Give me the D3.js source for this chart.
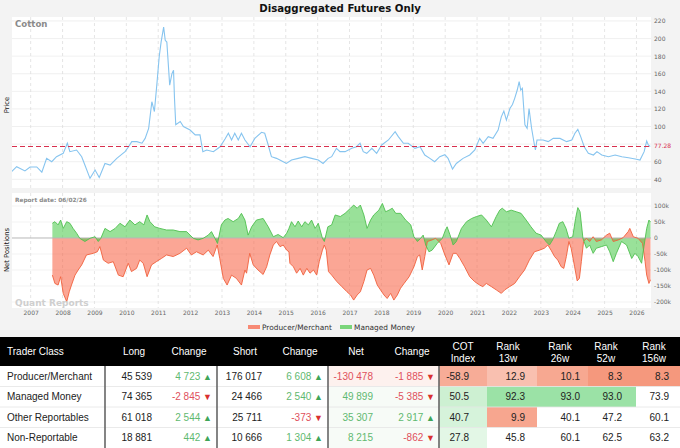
<!DOCTYPE html>
<html>
<head>
<meta charset="utf-8">
<script src="https://cdn.jsdelivr.net/npm/d3@7"></script>
<style>
  html, body { margin: 0; padding: 0; background: #f3f3f3; }
  svg { display: block; }
</style>
</head>
<body>
<svg id="chart" width="680" height="448"></svg>
<script>
// ---- data ----
var yearTicks = [2007, 2008, 2009, 2010, 2011, 2012, 2013, 2014, 2015, 2016,
                 2017, 2018, 2019, 2020, 2021, 2022, 2023, 2024, 2025, 2026];
var priceTicks = [40, 60, 80, 100, 120, 140, 160, 180, 200, 220];
var netTicks = [-200, -150, -100, -50, 0, 50, 100];
var lastPrice = 77.28;

// price (cents/lb), dates as decimal years
var priceDates = [2006.40, 2006.56, 2006.82, 2006.98, 2007.19, 2007.35, 2007.50, 2007.66, 2007.81, 2008.02,
  2008.15, 2008.23, 2008.44, 2008.60, 2008.70, 2008.86, 2009.02, 2009.15, 2009.33, 2009.49,
  2009.70, 2009.96, 2010.07, 2010.17, 2010.33, 2010.49, 2010.59, 2010.70, 2010.80, 2010.88,
  2010.96, 2011.03, 2011.09, 2011.17, 2011.22, 2011.27, 2011.36, 2011.43, 2011.48, 2011.51,
  2011.55, 2011.69, 2011.79, 2012.00, 2012.16, 2012.31, 2012.40, 2012.52, 2012.73, 2012.94,
  2013.10, 2013.20, 2013.30, 2013.40, 2013.51, 2013.61, 2013.72, 2013.88, 2014.03, 2014.24,
  2014.34, 2014.45, 2014.55, 2014.71, 2014.92, 2015.02, 2015.18, 2015.39, 2015.60, 2015.81,
  2016.02, 2016.17, 2016.33, 2016.44, 2016.59, 2016.70, 2016.86, 2017.07, 2017.22, 2017.33,
  2017.43, 2017.54, 2017.70, 2017.85, 2018.01, 2018.22, 2018.43, 2018.53, 2018.69, 2018.84,
  2019.05, 2019.21, 2019.36, 2019.52, 2019.67, 2019.83, 2019.99, 2020.09, 2020.23, 2020.35,
  2020.56, 2020.77, 2020.93, 2021.08, 2021.19, 2021.35, 2021.50, 2021.66, 2021.76, 2021.84,
  2021.92, 2022.03, 2022.11, 2022.18, 2022.26, 2022.32, 2022.37, 2022.42, 2022.50, 2022.57,
  2022.63, 2022.71, 2022.79, 2022.83, 2022.88, 2023.07, 2023.23, 2023.39, 2023.60, 2023.81,
  2023.97, 2024.07, 2024.16, 2024.25, 2024.36, 2024.49, 2024.65, 2024.76, 2024.91, 2025.12,
  2025.33, 2025.54, 2025.75, 2025.96, 2026.11, 2026.24, 2026.32, 2026.37, 2026.43];
var priceValues = [48.6, 54.3, 49.5, 54, 54, 48, 63.8, 60, 65.7, 69.5,
  81, 71.4, 73.3, 65.7, 56.2, 41.1, 50.5, 42, 58, 56.2,
  63.8, 71.4, 77, 82.8, 82.8, 81, 86.5, 97.9, 128.2, 117,
  149, 179, 196, 213, 198, 196, 147, 160, 164, 132,
  102, 105.7, 100, 96, 90.5, 90.5, 71.4, 73.3, 71.4, 77,
  86, 92.3, 84.7, 92.3, 84.7, 92.3, 84.7, 77, 86.5, 93.4,
  92.3, 79, 65.7, 63.8, 60, 58, 61.9, 63.8, 65.7, 63.8,
  61.9, 58, 63.8, 65.7, 75.2, 71.4, 71.4, 75.2, 77, 81,
  71.4, 69.5, 75.2, 69.5, 79, 84.7, 94.2, 88.5, 81, 81,
  75.2, 77, 67.6, 63.8, 60, 65.7, 68, 63.8, 51.7, 58,
  63.8, 67.6, 73.3, 86.5, 81, 88.5, 86.5, 96, 111, 117.5,
  107.3, 120.5, 125, 132, 141.5, 151, 141.5, 143.5, 102, 98,
  120.5, 98, 81, 73.3, 84.7, 84.7, 82.8, 86.5, 86.5, 82.8,
  84.7, 92.3, 96.8, 88.5, 77, 69.5, 67.6, 71.4, 67.6, 65.7,
  67.6, 65.7, 64.5, 63, 61.9, 71.4, 83.5, 79, 77.28];

// Producer/Merchant net position (thousand contracts)
var pmDates = [2007.68, 2007.76, 2007.86, 2007.94, 2008.02, 2008.13, 2008.21, 2008.28, 2008.39, 2008.49,
  2008.60, 2008.75, 2008.96, 2009.09, 2009.17, 2009.28, 2009.43, 2009.59, 2009.75, 2009.90,
  2010.06, 2010.16, 2010.32, 2010.42, 2010.53, 2010.65, 2010.79, 2010.94, 2011.10, 2011.26,
  2011.47, 2011.68, 2011.89, 2012.04, 2012.20, 2012.41, 2012.57, 2012.72, 2012.85, 2012.93,
  2013.04, 2013.16, 2013.30, 2013.45, 2013.61, 2013.72, 2013.77, 2013.87, 2013.98, 2014.13,
  2014.29, 2014.40, 2014.50, 2014.61, 2014.71, 2014.82, 2014.92, 2015.03, 2015.10, 2015.13,
  2015.24, 2015.34, 2015.45, 2015.55, 2015.66, 2015.76, 2015.87, 2015.97, 2016.05, 2016.15,
  2016.21, 2016.27, 2016.34, 2016.44, 2016.60, 2016.76, 2016.92, 2017.03, 2017.13, 2017.24,
  2017.34, 2017.45, 2017.55, 2017.66, 2017.76, 2017.87, 2017.97, 2018.08, 2018.18, 2018.29,
  2018.39, 2018.50, 2018.60, 2018.71, 2018.87, 2019.02, 2019.13, 2019.20, 2019.28, 2019.36,
  2019.44, 2019.59, 2019.70, 2019.86, 2019.99, 2020.12, 2020.25, 2020.35, 2020.46, 2020.61,
  2020.77, 2020.92, 2021.08, 2021.18, 2021.29, 2021.45, 2021.60, 2021.76, 2021.87, 2022.02,
  2022.18, 2022.33, 2022.49, 2022.64, 2022.80, 2022.96, 2023.11, 2023.22, 2023.32, 2023.43,
  2023.53, 2023.64, 2023.72, 2023.80, 2023.88, 2023.95, 2024.06, 2024.14, 2024.21, 2024.27,
  2024.34, 2024.43, 2024.53, 2024.64, 2024.74, 2024.90, 2025.06, 2025.16, 2025.27, 2025.43,
  2025.58, 2025.74, 2025.79, 2025.90, 2026.05, 2026.19, 2026.27, 2026.32, 2026.39, 2026.44];
var pmValues = [-116, -142, -147, -121, -173, -199, -168, -147, -116, -100,
  -84, -53, -48, -43, -27, -69, -79, -74, -116, -121,
  -79, -105, -95, -69, -79, -121, -84, -74, -64, -53,
  -58, -48, -32, -53, -43, -53, -38, -58, -22, -64,
  -126, -147, -116, -126, -147, -100, -110, -48, -84, -100,
  -114, -90, -53, -22, -11, -27, -22, -38, -43, -79,
  -90, -110, -95, -116, -95, -110, -100, -116, -74, -38,
  -22, -38, -105, -116, -136, -152, -168, -178, -194, -178,
  -168, -136, -100, -95, -116, -147, -162, -178, -189, -173,
  -194, -178, -157, -142, -121, -90, -58, -53, -100, -58,
  -11, -6, -1, -17, -53, -84, -48, -48, -64, -90,
  -121, -136, -147, -152, -142, -152, -162, -173, -162, -152,
  -142, -121, -100, -69, -43, -38, -32, -22, -38, -58,
  -69, -90, -95, -58, -11, -32, -90, -134, -126, -74,
  -11, -1, -11, 4, -11, -6, 9, 15, -11, -6,
  1, 20, 30, 4, -1, -17, -74, -116, -142, -130.478];

// Managed Money net position (thousand contracts)
var mmDates = [2007.68, 2007.76, 2007.86, 2007.94, 2008.02, 2008.13, 2008.23, 2008.33, 2008.44, 2008.54,
  2008.70, 2008.86, 2009.02, 2009.12, 2009.20, 2009.33, 2009.49, 2009.65, 2009.80, 2009.96,
  2010.11, 2010.27, 2010.42, 2010.55, 2010.65, 2010.74, 2010.89, 2011.05, 2011.26, 2011.47,
  2011.68, 2011.89, 2012.10, 2012.25, 2012.41, 2012.57, 2012.67, 2012.78, 2012.86, 2012.98,
  2013.09, 2013.19, 2013.35, 2013.51, 2013.61, 2013.72, 2013.82, 2013.93, 2014.08, 2014.29,
  2014.45, 2014.61, 2014.76, 2014.92, 2015.03, 2015.10, 2015.18, 2015.29, 2015.39, 2015.50,
  2015.60, 2015.71, 2015.81, 2015.92, 2016.02, 2016.15, 2016.21, 2016.32, 2016.44, 2016.55,
  2016.71, 2016.86, 2017.03, 2017.13, 2017.24, 2017.34, 2017.45, 2017.55, 2017.66, 2017.76,
  2017.92, 2018.03, 2018.13, 2018.24, 2018.34, 2018.45, 2018.60, 2018.76, 2018.92, 2019.02,
  2019.13, 2019.23, 2019.31, 2019.39, 2019.49, 2019.59, 2019.75, 2019.91, 2020.01, 2020.06,
  2020.15, 2020.25, 2020.35, 2020.51, 2020.67, 2020.83, 2020.98, 2021.14, 2021.29, 2021.45,
  2021.60, 2021.71, 2021.79, 2021.92, 2022.07, 2022.23, 2022.38, 2022.54, 2022.69, 2022.85,
  2023.01, 2023.16, 2023.27, 2023.37, 2023.48, 2023.58, 2023.69, 2023.79, 2023.88, 2024.00,
  2024.09, 2024.16, 2024.23, 2024.32, 2024.43, 2024.53, 2024.64, 2024.74, 2024.90, 2025.06,
  2025.16, 2025.27, 2025.37, 2025.53, 2025.69, 2025.85, 2025.95, 2026.05, 2026.16, 2026.24,
  2026.32, 2026.39, 2026.44];
var mmValues = [46, 51, 41, 56, 30, 51, 46, 30, 15, -1,
  -11, -1, 4, -11, -1, 30, 20, 30, 46, 35,
  56, 41, 51, 41, 72, 51, 35, 30, 25, 25,
  20, 20, -1, -6, -1, 9, 20, -1, -17, 41,
  56, 61, 51, 61, 77, 56, 9, 35, 56, 61,
  35, 4, 11, 1, 15, 30, 51, 35, 53, 35,
  51, 41, 56, 30, 46, -1, -11, 35, 41, 72,
  67, 77, 93, 103, 93, 103, 72, 30, 56, 72,
  87, 108, 82, 87, 93, 77, 77, 56, 41, 4,
  -11, -1, 9, -22, -43, -38, -17, -1, 25, 35,
  10, -22, -11, 30, 51, 61, 67, 72, 56, 35,
  67, 87, 93, 82, 87, 82, 77, 56, 35, 15,
  9, -11, -22, -6, 20, 46, 51, 30, -1, 4,
  61, 95, 82, -1, -32, -22, -48, -32, -27, -22,
  -43, -74, -48, -11, -22, -64, -48, -58, -79, -22,
  30, 56, 49.899];

var seriesNames = ["Producer/Merchant", "Managed Money"];

// ---- table data ----
var traderClasses = ["Producer/Merchant", "Managed Money", "Other Reportables", "Non-Reportable"];
var longs = [45539, 74365, 61018, 18881];
var longChanges = [4723, -2845, 2544, 442];
var shorts = [176017, 24466, 25711, 10666];
var shortChanges = [6608, 2540, -373, 1304];
var nets = [-130478, 49899, 35307, 8215];
var netChanges = [-1885, -5385, 2917, -862];
var cotIndex = [-58.9, 50.5, 40.7, 27.8];
var rank13 = [12.9, 92.3, 9.9, 45.8];
var rank26 = [10.1, 93.0, 40.1, 60.1];
var rank52 = [8.3, 93.0, 47.2, 62.5];
var rank156 = [8.3, 73.9, 60.1, 63.2];

// ---- layout ----
var W = 680, H = 448;
var plotL = 12, plotR = 651;
var priceT = 17, priceB = 188;
var netT = 193, netB = 308;

var svg = d3.select("#chart");
var fontChart = "'DejaVu Sans', Verdana, sans-serif";
var fontTable = "'Liberation Sans', Arial, sans-serif";

svg.append("rect").attr("width", W).attr("height", H).attr("fill", "#f3f3f3");

// scales
var x = d3.scaleLinear().domain([2006.414, 2026.455]).range([plotL, plotR]);
var yPrice = d3.scaleLinear().domain([30.1, 224.5]).range([priceB, priceT]);
var yNet = d3.scaleLinear().domain([-218.75, 140.6]).range([netB, netT]);

// panel backgrounds
svg.append("rect").attr("x", plotL).attr("y", priceT).attr("width", plotR - plotL)
  .attr("height", priceB - priceT).attr("fill", "#fff");
svg.append("rect").attr("x", plotL).attr("y", netT).attr("width", plotR - plotL)
  .attr("height", netB - netT).attr("fill", "#fff");

// horizontal grid lines
svg.append("g").selectAll("line").data(priceTicks).enter().append("line")
  .attr("x1", plotL).attr("x2", plotR)
  .attr("y1", d => yPrice(d)).attr("y2", d => yPrice(d))
  .attr("stroke", "#ececec").attr("stroke-width", 0.8);
svg.append("g").selectAll("line").data(netTicks.filter(d => d !== 0)).enter().append("line")
  .attr("x1", plotL).attr("x2", plotR)
  .attr("y1", d => yNet(d)).attr("y2", d => yNet(d))
  .attr("stroke", "#f0f0f0").attr("stroke-width", 0.8);

// vertical dashed year lines, both panels
[[priceT, priceB], [netT, netB]].forEach(function (r) {
  svg.append("g").selectAll("line").data(yearTicks).enter().append("line")
    .attr("x1", d => x(d)).attr("x2", d => x(d))
    .attr("y1", r[0]).attr("y2", r[1])
    .attr("stroke", "#dedede").attr("stroke-width", 0.8)
    .attr("stroke-dasharray", "3,3");
});

// clip paths
svg.append("clipPath").attr("id", "clipPrice").append("rect")
  .attr("x", plotL).attr("y", priceT).attr("width", plotR - plotL).attr("height", priceB - priceT);
svg.append("clipPath").attr("id", "clipNet").append("rect")
  .attr("x", plotL).attr("y", netT).attr("width", plotR - plotL).attr("height", netB - netT);

// price line
var priceData = priceDates.map((d, i) => [d, priceValues[i]]);
svg.append("path").datum(priceData)
  .attr("clip-path", "url(#clipPrice)")
  .attr("fill", "none").attr("stroke", "#86c4ef").attr("stroke-width", 1.1)
  .attr("d", d3.line().x(d => x(d[0])).y(d => yPrice(d[1])));

// last price reference line
svg.append("line")
  .attr("x1", plotL).attr("x2", plotR)
  .attr("y1", yPrice(lastPrice)).attr("y2", yPrice(lastPrice))
  .attr("stroke", "#d8304e").attr("stroke-width", 1.1).attr("stroke-dasharray", "5,3");

// net position areas
var netSeries = [
  { name: seriesNames[0], data: pmDates.map((d, i) => [d, pmValues[i]]), fill: "rgb(248,92,62)", stroke: "#f0603c" },
  { name: seriesNames[1], data: mmDates.map((d, i) => [d, mmValues[i]]), fill: "rgb(70,200,70)", stroke: "#4fbf4f" }
];
var area = d3.area().x(d => x(d[0])).y0(yNet(0)).y1(d => yNet(d[1]));
var lineNet = d3.line().x(d => x(d[0])).y(d => yNet(d[1]));
var gNet = svg.append("g").attr("clip-path", "url(#clipNet)");
netSeries.forEach(function (s) {
  gNet.append("path").datum(s.data).attr("fill", s.fill).attr("fill-opacity", 0.55).attr("d", area);
});
// zero line
gNet.append("line").attr("x1", plotL).attr("x2", plotR)
  .attr("y1", yNet(0)).attr("y2", yNet(0)).attr("stroke", "#b8b8b8").attr("stroke-width", 1);
netSeries.forEach(function (s) {
  gNet.append("path").datum(s.data).attr("fill", "none").attr("stroke", s.stroke)
    .attr("stroke-width", 0.9).attr("d", lineNet);
});

// axes (the 80 label sits under the last-price label, as in the reference)
var axPrice = svg.append("g").attr("transform", "translate(" + plotR + ",0)")
  .call(d3.axisRight(yPrice).tickValues(priceTicks.filter(d => Math.abs(d - lastPrice) > 6))
    .tickSize(0).tickPadding(3));
var axNet = svg.append("g").attr("transform", "translate(" + plotR + ",0)")
  .call(d3.axisRight(yNet).tickValues(netTicks).tickSize(0).tickPadding(3)
    .tickFormat(d => d === 0 ? "0" : d + "k"));
var axX = svg.append("g").attr("transform", "translate(0," + netB + ")")
  .call(d3.axisBottom(x).tickValues(yearTicks).tickSize(0).tickPadding(3).tickFormat(d3.format("d")));
[axPrice, axNet, axX].forEach(function (a) {
  a.select(".domain").remove();
  a.selectAll("text").attr("fill", "#666").style("font-family", fontChart).style("font-size", "6px");
});

// last price label
svg.append("text").attr("x", plotR + 3).attr("y", yPrice(lastPrice)).attr("dy", "0.32em")
  .attr("fill", "#d8304e").style("font-family", fontChart).style("font-size", "6px")
  .text(lastPrice.toFixed(2));

// titles and labels
svg.append("text").attr("x", 340).attr("y", 12).attr("text-anchor", "middle")
  .style("font-family", fontChart).style("font-size", "10.2px").style("font-weight", "bold")
  .attr("fill", "#111").text("Disaggregated Futures Only");
svg.append("text").attr("x", 15).attr("y", 27)
  .style("font-family", fontChart).style("font-size", "8.6px").style("font-weight", "bold")
  .attr("fill", "#8a8a8a").text("Cotton");
svg.append("text").attr("x", 15).attr("y", 201.5)
  .style("font-family", fontChart).style("font-size", "5.8px").style("font-weight", "bold")
  .attr("fill", "#8a8a8a").text("Report date: 06/02/26");
svg.append("text").attr("x", 15).attr("y", 306)
  .style("font-family", fontChart).style("font-size", "9px").style("font-weight", "bold")
  .attr("fill", "#cfcfcf").text("Quant Reports");
svg.append("text").attr("transform", "translate(9,105) rotate(-90)").attr("text-anchor", "middle")
  .style("font-family", fontChart).style("font-size", "6.8px").attr("fill", "#111").text("Price");
svg.append("text").attr("transform", "translate(9,250) rotate(-90)").attr("text-anchor", "middle")
  .style("font-family", fontChart).style("font-size", "6.8px").attr("fill", "#111").text("Net Positions");

// legend
var legend = svg.append("g").attr("transform", "translate(248,327)");
var legX = [0, 92];
netSeries.forEach(function (s, i) {
  var g = legend.append("g").attr("transform", "translate(" + legX[i] + ",0)");
  g.append("rect").attr("x", 0).attr("y", -2).attr("width", 12).attr("height", 4)
    .attr("fill", s.fill).attr("fill-opacity", 0.7);
  g.append("text").attr("x", 14).attr("y", 0).attr("dy", "0.35em")
    .style("font-family", fontChart).style("font-size", "7.4px").attr("fill", "#333").text(s.name);
});

// ---- table ----
var loc = d3.formatLocale({ decimal: ".", thousands: " ", grouping: [3], currency: ["", ""], minus: "-" });
var fmtInt = loc.format(",d");
var fmt1 = loc.format(".1f");
var headTop = 337, headH = 29, rowH = 20.5;
var bodyTop = headTop + headH;

svg.append("rect").attr("x", 0).attr("y", headTop).attr("width", W).attr("height", headH).attr("fill", "#000");
svg.append("rect").attr("x", 0).attr("y", bodyTop).attr("width", W).attr("height", H - bodyTop).attr("fill", "#fff");

var cols = [
  { head: ["Trader Class"], hx: 7, anchor: "start" },
  { head: ["Long"], hx: 134, vals: longs, ex: 152, kind: "num" },
  { head: ["Change"], hx: 189, vals: longChanges, ex: 212, kind: "chg" },
  { head: ["Short"], hx: 245, vals: shorts, ex: 262, kind: "num" },
  { head: ["Change"], hx: 300, vals: shortChanges, ex: 323, kind: "chg" },
  { head: ["Net"], hx: 356, vals: nets, ex: 373, kind: "net" },
  { head: ["Change"], hx: 412, vals: netChanges, ex: 435, kind: "chg" },
  { head: ["COT", "Index"], hx: 463, vals: cotIndex, ex: 469, kind: "cot", x0: 439, x1: 487 },
  { head: ["Rank", "13w"], hx: 508, vals: rank13, ex: 525, kind: "rank", x0: 487, x1: 537 },
  { head: ["Rank", "26w"], hx: 560, vals: rank26, ex: 580, kind: "rank", x0: 537, x1: 588 },
  { head: ["Rank", "52w"], hx: 606, vals: rank52, ex: 622, kind: "rank", x0: 588, x1: 636 },
  { head: ["Rank", "156w"], hx: 654, vals: rank156, ex: 669, kind: "rank", x0: 636, x1: 680 }
];

var redI = d3.interpolateRgb("#ffffff", "#f5957a");
var grnI = d3.interpolateRgb("#ffffff", "#9be2a6");
function cotColor(v) { return v < 0 ? redI(Math.min(1, -v / 75)) : grnI(Math.min(1, v / 100)); }
function rankColor(v) {
  if (v <= 20) return redI(Math.min(1, (20 - v) / 12));
  if (v >= 80) return grnI(Math.min(1, (v - 80) / 10));
  return "#fff";
}
var upClr = "#5fb970", dnClr = "#e0505c";

// faint tint behind net columns
nets.forEach(function (v, i) {
  svg.append("rect").attr("x", 328).attr("y", bodyTop + i * rowH).attr("width", 111).attr("height", rowH)
    .attr("fill", v < 0 ? "#fdf1ee" : "#f7fbf7");
});

// colored cells
cols.filter(c => c.kind === "cot" || c.kind === "rank").forEach(function (c) {
  c.vals.forEach(function (v, i) {
    svg.append("rect").attr("x", c.x0).attr("y", bodyTop + i * rowH).attr("width", c.x1 - c.x0)
      .attr("height", rowH).attr("fill", c.kind === "cot" ? cotColor(v) : rankColor(v));
  });
});

// row separators
d3.range(1, traderClasses.length).forEach(function (i) {
  svg.append("line").attr("x1", 0).attr("x2", W)
    .attr("y1", bodyTop + i * rowH).attr("y2", bodyTop + i * rowH)
    .attr("stroke", "#e4e4e4").attr("stroke-width", 0.8);
});

// header text
cols.forEach(function (c) {
  var t = svg.append("text").attr("x", c.hx).attr("text-anchor", c.anchor || "middle")
    .style("font-family", fontTable).style("font-size", "10px").attr("fill", "#fff");
  if (c.head.length === 1) {
    t.attr("y", headTop + headH / 2).attr("dy", "0.35em").text(c.head[0]);
  } else {
    t.append("tspan").attr("x", c.hx).attr("y", headTop + 9.5).attr("dy", "0.35em").text(c.head[0]);
    t.append("tspan").attr("x", c.hx).attr("y", headTop + 21).attr("dy", "0.35em").text(c.head[1]);
  }
});

// body text
traderClasses.forEach(function (name, i) {
  var cy = bodyTop + i * rowH + rowH / 2;
  svg.append("text").attr("x", 7).attr("y", cy).attr("dy", "0.35em")
    .style("font-family", fontTable).style("font-size", "10px").attr("fill", "#222").text(name);
  cols.slice(1).forEach(function (c) {
    var v = c.vals[i];
    var t = svg.append("text").attr("x", c.ex).attr("y", cy).attr("dy", "0.35em")
      .attr("text-anchor", "end").style("font-family", fontTable).style("font-size", "10px");
    if (c.kind === "num") {
      t.attr("fill", "#222").text(fmtInt(v));
    } else if (c.kind === "net") {
      t.attr("fill", v < 0 ? dnClr : upClr).text(fmtInt(v));
    } else if (c.kind === "chg") {
      t.append("tspan").attr("fill", v < 0 ? dnClr : upClr).text(fmtInt(v) + " ");
      t.append("tspan").attr("fill", v < 0 ? "#d9302f" : "#3fa558").style("font-size", "9px")
        .text(v < 0 ? "\u25BC" : "\u25B2");
    } else {
      t.attr("fill", "#222").text(fmt1(v));
    }
  });
});

// vertical separators
[105, 217, 328, 439].forEach(function (sx) {
  svg.append("line").attr("x1", sx).attr("x2", sx).attr("y1", bodyTop).attr("y2", H)
    .attr("stroke", "#666").attr("stroke-width", 1.6);
});
</script>
</body>
</html>
